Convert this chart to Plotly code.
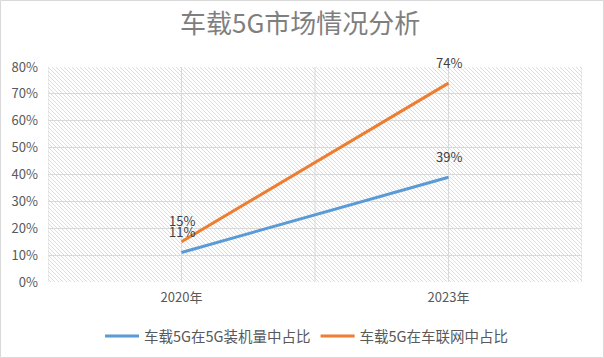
import plotly.graph_objects as go
import base64

categories = ["2020年", "2023年"]
series1_name = "车载5G在5G装机量中占比"
series1_values = [0.11, 0.39]
series2_name = "车载5G在车联网中占比"
series2_values = [0.15, 0.74]
y_ticks = [0, 0.1, 0.2, 0.3, 0.4, 0.5, 0.6, 0.7, 0.8]

W, H = 604, 358
ml, mr, mt, mb = 48, 22, 67, 76
pw, ph = W - ml - mr, H - mt - mb

svg = f'''<svg xmlns="http://www.w3.org/2000/svg" width="{pw}" height="{ph}">
<defs><pattern id="p" width="4" height="4" patternUnits="userSpaceOnUse">
<path d="M-1,-1 L5,5 M-1,3 L1,5 M3,-1 L5,1" stroke="#cfcfcf" stroke-width="0.7"/>
</pattern></defs>
<rect width="100%" height="100%" fill="url(#p)"/></svg>'''
uri = "data:image/svg+xml;base64," + base64.b64encode(svg.encode()).decode()

xs = list(range(len(categories)))
fig = go.Figure()
for name, vals, color in [(series1_name, series1_values, "#5B9BD5"),
                          (series2_name, series2_values, "#ED7D31")]:
    fig.add_trace(go.Scatter(x=xs, y=vals, name=name, mode="lines",
                             line=dict(color=color, width=3), cliponaxis=False))
    for xv, v in zip(xs, vals):
        fig.add_annotation(x=xv, y=v, text=f"{v*100:.0f}%", showarrow=False,
                           yshift=21, font=dict(size=13, color="#404040"))

fig.add_layout_image(dict(source=uri, xref="paper", yref="paper", x=0, y=1,
                          sizex=1, sizey=1, sizing="stretch", layer="below",
                          xanchor="left", yanchor="top"))

fig.add_shape(type="rect", xref="paper", yref="paper",
              x0=-(ml - 0.5) / pw, x1=(W - ml - 0.5) / pw,
              y0=-(mb - 0.5) / ph, y1=(H - mb - 0.5) / ph,
              line=dict(color="#d9d9d9", width=1), layer="below")

for xv in [-0.5, 0, 0.5, 1, 1.5]:
    fig.add_shape(type="line", xref="x", yref="paper", x0=xv, x1=xv, y0=0, y1=1,
                  line=dict(color="#d9d9d9", width=1), layer="below")

fig.update_layout(
    width=W, height=H,
    margin=dict(l=ml, r=mr, t=mt, b=mb, autoexpand=False),
    paper_bgcolor="white", plot_bgcolor="rgba(0,0,0,0)",
    font=dict(family="Noto Sans CJK SC, Noto Sans, sans-serif", color="#595959", size=12),
    title=dict(text="车载5G市场情况分析", x=0.497, xref="container", xanchor="center",
               y=1 - 24 / H, yanchor="middle",
               font=dict(size=26, color="#7f7f7f")),
    xaxis=dict(range=[-0.5, len(categories) - 0.5], tickvals=xs, ticktext=categories,
               showgrid=False, zeroline=False, showline=False, ticks="",
               tickfont=dict(size=13, color="#595959"), automargin=False,
               ticklabelstandoff=6),
    yaxis=dict(range=[0, 0.8], tickvals=y_ticks, tickformat=".0%",
               showgrid=True, gridcolor="#d9d9d9", gridwidth=1,
               zeroline=False, showline=False, ticks="", automargin=False,
               tickfont=dict(size=13, color="#595959"), ticklabelstandoff=9),
    legend=dict(orientation="h", x=0.485, xanchor="center", y=-(336 - 282) / ph,
                yanchor="middle", font=dict(size=14.5, color="#595959"),
                itemwidth=34, tracegroupgap=0),
    showlegend=True,
)

fig.write_html("out.html", config={"displayModeBar": False},
               post_script="document.body.style.margin='0';document.body.style.padding='0';")
